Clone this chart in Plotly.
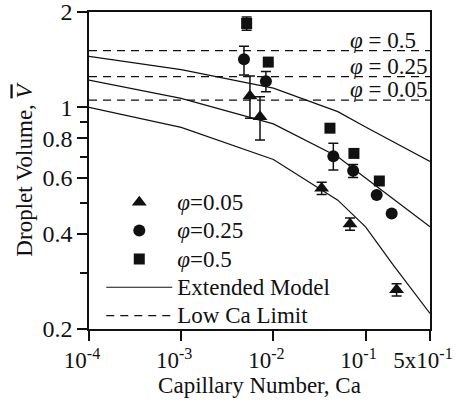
import numpy as np
import plotly.graph_objects as go

# ---------------- data ----------------
# Extended-model curves
ca_model = [1e-4, 1e-3, 1e-2, 0.05, 0.1, 0.2, 0.5]
model_005 = [1.00, 0.865, 0.685, 0.51, 0.42, 0.318, 0.224]
model_025 = [1.22, 1.068, 0.887, 0.699, 0.599, 0.515, 0.42]
model_05 = [1.45, 1.316, 1.15, 0.970, 0.867, 0.78, 0.675]

# Low Ca limits
low_ca_phi = ["0.05", "0.25", "0.5"]
low_ca_val = [1.055, 1.25, 1.51]
ca_range = [1e-4, 0.5]

# experimental points
ca_005 = [0.00557, 0.00716, 0.0334, 0.0678, 0.217]
v_005 = [1.087, 0.935, 0.556, 0.429, 0.266]
eu_005 = [0.17, 0.146, 0.025, 0.019, 0.012]
ed_005 = [0.163, 0.145, 0.025, 0.019, 0.012]

ca_025 = [0.0048, 0.0083, 0.0447, 0.0733, 0.132, 0.192]
v_025 = [1.42, 1.21, 0.702, 0.631, 0.529, 0.463]
eu_025 = [0.14, 0.087, 0.069, 0.03, 0, 0]
ed_025 = [0.155, 0.09, 0.067, 0.03, 0, 0]

ca_05 = [0.00513, 0.0088, 0.0411, 0.0748, 0.141]
v_05 = [1.84, 1.39, 0.86, 0.716, 0.586]
eu_05 = [0.087, 0, 0, 0, 0]
ed_05 = [0.087, 0, 0, 0, 0]

x_tickvals = [1e-4, 1e-3, 1e-2, 1e-1, 0.5]
x_ticktext = ["10<sup>-4</sup>", "10<sup>-3</sup>", "10<sup>-2</sup>", "10<sup>-1</sup>", "5x10<sup>-1</sup>"]
y_tickvals = [0.2, 0.4, 0.6, 0.8, 1, 2]
y_ticktext = ["0.2", "0.4", "0.6", "0.8", "1", "2"]
y_minor = [0.3, 0.5, 0.7, 0.9]
label_ca = 0.0644  # where the phi labels start

FONT = "Liberation Serif, Times New Roman, serif"
INK = "#111111"
FS = 23

def big(t):
    return f"<span style='font-size:{FS}px'>{t}</span>"

fig = go.Figure()

def err(up, dn):
    return dict(type="data", array=up, arrayminus=dn, symmetric=False,
                color=INK, thickness=1.5, width=5)

fig.add_trace(go.Scatter(x=ca_005, y=v_005, mode="markers", name=big("<i>φ</i>=0.05"),
                         marker=dict(symbol="triangle-up", size=13, color=INK),
                         error_y=err(eu_005, ed_005)))
fig.add_trace(go.Scatter(x=ca_025, y=v_025, mode="markers", name=big("<i>φ</i>=0.25"),
                         marker=dict(symbol="circle", size=12, color=INK),
                         error_y=err(eu_025, ed_025)))
fig.add_trace(go.Scatter(x=ca_05, y=v_05, mode="markers", name=big("<i>φ</i>=0.5"),
                         marker=dict(symbol="square", size=11, color=INK),
                         error_y=err(eu_05, ed_05)))

for i, ys in enumerate([model_005, model_025, model_05]):
    fig.add_trace(go.Scatter(x=ca_model, y=ys, mode="lines", name=big("Extended Model"),
                             line=dict(color=INK, width=1.2),
                             showlegend=(i == 0)))

for i, v in enumerate(low_ca_val):
    fig.add_trace(go.Scatter(x=ca_range, y=[v, v], mode="lines", name=big("Low Ca Limit"),
                             line=dict(color=INK, width=1.2, dash="8px,6px"),
                             showlegend=(i == 0)))
    fig.add_annotation(x=np.log10(label_ca), y=np.log10(v), xref="x", yref="y",
                       text=f"<i>φ</i> = {low_ca_phi[i]}", showarrow=False,
                       xanchor="left", yanchor="bottom", yshift=-4,
                       font=dict(family=FONT, size=FS, color=INK))

fig.update_xaxes(type="log", range=[-4, np.log10(0.5)], automargin=False,
                 tickvals=x_tickvals, ticktext=x_ticktext, ticklabeloverflow="allow",
                 ticklabelshift=-7,
                 ticks="outside", ticklen=10, tickwidth=1.5, tickcolor=INK,
                 showline=True, linecolor=INK, linewidth=1.5, mirror=True,
                 showgrid=False, zeroline=False,
                 title=dict(text="Capillary Number, Ca", standoff=1,
                            font=dict(family=FONT, size=FS, color=INK)),
                 tickfont=dict(family=FONT, size=FS, color=INK))
fig.update_yaxes(type="log", range=[np.log10(0.2), np.log10(2)], automargin=False,
                 tickvals=y_tickvals, ticktext=y_ticktext, ticklabeloverflow="allow",
                 ticks="outside", ticklen=10, tickwidth=1.5, tickcolor=INK,
                 minor=dict(tickvals=y_minor, ticks="outside", ticklen=7, tickwidth=1.5, tickcolor=INK, showgrid=False),
                 showline=True, linecolor=INK, linewidth=1.5, mirror=True,
                 showgrid=False, zeroline=False,
                 title=dict(text="Droplet Volume, <span style='text-decoration:overline'><i>V</i></span>", standoff=3,
                            font=dict(family=FONT, size=FS, color=INK)),
                 tickfont=dict(family=FONT, size=24, color=INK))

fig.update_layout(
    width=458, height=405,
    margin=dict(l=89, r=28, t=12, b=76),
    paper_bgcolor="white", plot_bgcolor="white",
    font=dict(family=FONT, size=FS, color=INK),
    showlegend=True,
    legend=dict(x=0.036, y=-0.019, xanchor="left", yanchor="bottom",
                bgcolor="rgba(0,0,0,0)", itemwidth=66, tracegroupgap=0,
                font=dict(family=FONT, size=19.5, color=INK)),
)

fig.write_html("out.html")
